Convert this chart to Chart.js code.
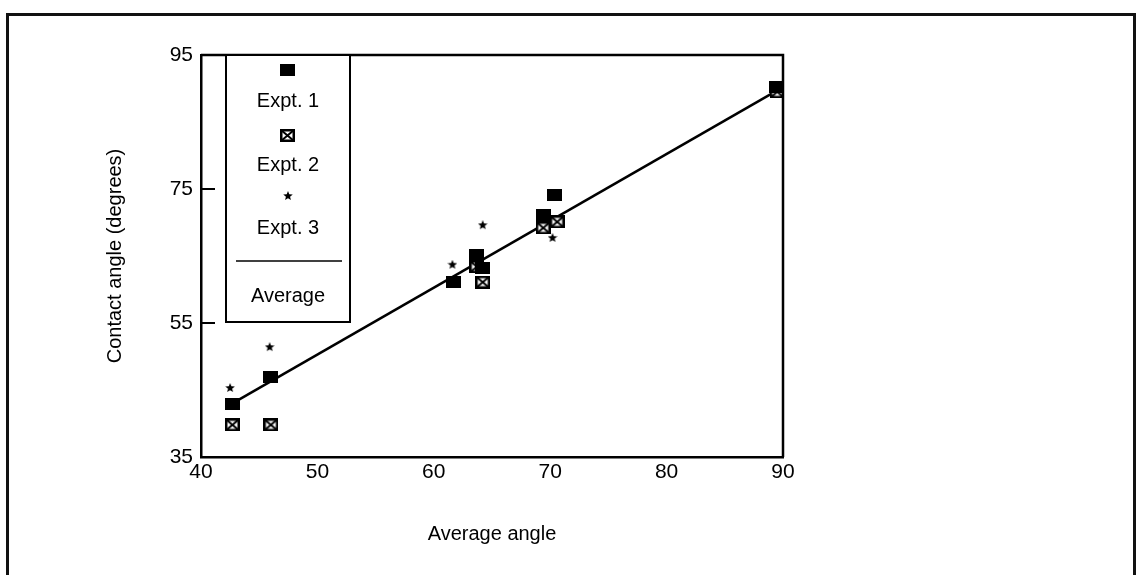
<!DOCTYPE html>
<html>
<head>
<meta charset="utf-8">
<script src="https://cdn.jsdelivr.net/npm/chart.js@4.4.0/dist/chart.umd.min.js"></script>
<style>
  html, body { margin: 0; padding: 0; background: #fff; }
  #wrap { position: relative; width: 1136px; height: 575px; overflow: hidden; }
  #frame { position: absolute; left: 6px; top: 13px; width: 1124px; height: 600px; border: 3px solid #111; }
  #c { position: absolute; left: 0; top: 0; }
</style>
</head>
<body>
<div id="wrap">
  <div id="frame"></div>
  <canvas id="c" width="1136" height="575"></canvas>
</div>
<script>
// --- datos ---
const expt1X = [42.7, 46.0, 61.7, 63.7, 64.2, 69.4, 70.4, 89.4];
const expt1Y = [42.9, 46.9, 61.1, 65.1, 63.2, 71.1, 74.1, 90.2];
const expt2X = [42.7, 46.0, 63.7, 64.2, 69.4, 70.6, 89.5];
const expt2Y = [39.8, 39.8, 63.4, 61.1, 69.2, 70.1, 89.5];
const expt3X = [42.5, 45.9, 61.6, 64.2, 70.2];
const expt3Y = [45.3, 51.4, 63.7, 69.6, 67.7];
const avgX = [42.7, 89.4];
const avgY = [43.0, 89.6];
const xTicks = [40, 50, 60, 70, 80, 90];
const yTicks = [35, 55, 75, 95];
const labels = ['Expt. 1', 'Expt. 2', 'Expt. 3', 'Average'];

const FONT = "'Liberation Sans', Arial, Helvetica, sans-serif";

// iconos de puntos
function makeCrossSquare(w, h) {
  const cv = document.createElement('canvas');
  cv.width = w; cv.height = h;
  const c = cv.getContext('2d');
  c.fillStyle = '#fff'; c.fillRect(0, 0, w, h);
  c.strokeStyle = '#000'; c.lineWidth = 2.5;
  c.strokeRect(1.25, 1.25, w - 2.5, h - 2.5);
  c.lineWidth = 2;
  c.beginPath();
  c.moveTo(1, 1); c.lineTo(w - 1, h - 1);
  c.moveTo(w - 1, 1); c.lineTo(1, h - 1);
  c.stroke();
  return cv;
}
function makeStar(s) {
  const cv = document.createElement('canvas');
  cv.width = s; cv.height = s;
  const c = cv.getContext('2d');
  c.fillStyle = '#000';
  c.beginPath();
  for (let i = 0; i < 10; i++) {
    const r = i % 2 === 0 ? s / 2 : s / 4.6;
    const a = -Math.PI / 2 + i * Math.PI / 5;
    c.lineTo(s / 2 + r * Math.cos(a), s / 2 + r * Math.sin(a));
  }
  c.closePath(); c.fill();
  return cv;
}
function makeRect(w, h) {
  const cv = document.createElement('canvas');
  cv.width = w; cv.height = h;
  const c = cv.getContext('2d');
  c.fillStyle = '#000'; c.fillRect(0, 0, w, h);
  return cv;
}
const rectIcon = makeRect(15, 12);
const crossIcon = makeCrossSquare(15, 13);
const starIcon = makeStar(10);

const toPts = (xs, ys) => xs.map((x, i) => ({ x: x, y: ys[i] }));

// marco del área, marcas hacia dentro en el eje Y y leyenda a medida
const extras = {
  id: 'extras',
  afterDraw(chart) {
    const ctx = chart.ctx;
    const ys = chart.scales.y, ca = chart.chartArea;
    ctx.save();
    ctx.strokeStyle = '#000'; ctx.lineWidth = 2.5;
    ctx.beginPath();
    ctx.moveTo(ca.left, ca.top); ctx.lineTo(ca.right, ca.top); ctx.lineTo(ca.right, ca.bottom);
    ctx.stroke();
    ctx.lineWidth = 2;
    yTicks.forEach(v => {
      const py = ys.getPixelForValue(v);
      ctx.beginPath(); ctx.moveTo(ca.left, py); ctx.lineTo(ca.left + 14, py); ctx.stroke();
    });
    // caja de leyenda
    const L = ca.left + 25, R = 350, T = ca.top, B = 322;
    ctx.fillStyle = '#fff'; ctx.fillRect(L, T, R - L, B - T);
    ctx.lineWidth = 2; ctx.strokeRect(L, T, R - L, B - T);
    const cx = (L + R) / 2;
    ctx.drawImage(rectIcon, cx - 8, 64);
    ctx.drawImage(crossIcon, cx - 8, 129);
    ctx.drawImage(starIcon, cx - 5, 191);
    ctx.fillStyle = '#000';
    ctx.font = '20px ' + FONT;
    ctx.textAlign = 'center'; ctx.textBaseline = 'middle';
    ctx.fillText(labels[0], cx, 101);
    ctx.fillText(labels[1], cx, 165);
    ctx.fillText(labels[2], cx, 228);
    ctx.beginPath(); ctx.moveTo(L + 10, 261); ctx.lineTo(R - 8, 261); ctx.lineWidth = 1.5; ctx.stroke();
    ctx.fillText(labels[3], cx, 296);
    ctx.restore();
  }
};

new Chart(document.getElementById('c'), {
  type: 'scatter',
  data: {
    datasets: [
      { label: labels[3], type: 'line', data: toPts(avgX, avgY), borderColor: '#000', borderWidth: 2.5, pointRadius: 0, showLine: true, order: 4 },
      { label: labels[1], data: toPts(expt2X, expt2Y), pointStyle: crossIcon, order: 3 },
      { label: labels[0], data: toPts(expt1X, expt1Y), pointStyle: rectIcon, order: 2 },
      { label: labels[2], data: toPts(expt3X, expt3Y), pointStyle: starIcon, order: 1 }
    ]
  },
  options: {
    responsive: false,
    animation: false,
    layout: { padding: { left: 0, top: 55, right: 353, bottom: 0 } },
    plugins: { legend: { display: false }, tooltip: { enabled: false } },
    scales: {
      x: {
        type: 'linear', min: 40, max: 90,
        afterBuildTicks: s => { s.ticks = xTicks.map(v => ({ value: v })); },
        afterFit: s => { s.height = 118; },
        grid: { display: false, drawTicks: false },
        border: { display: true, color: '#000', width: 2.5 },
        ticks: { color: '#000', font: { family: FONT, size: 21 }, padding: 3 },
        title: { display: true, text: 'Average angle', color: '#000', font: { family: FONT, size: 20 }, padding: { top: 0, bottom: 29 } }
      },
      y: {
        type: 'linear', min: 35, max: 95,
        afterBuildTicks: s => { s.ticks = yTicks.map(v => ({ value: v })); },
        afterFit: s => { s.width = 201; },
        grid: { display: false, drawTicks: false },
        border: { display: true, color: '#000', width: 2.5 },
        ticks: { color: '#000', font: { family: FONT, size: 21 }, padding: 8 },
        title: { display: true, text: 'Contact angle (degrees)', color: '#000', font: { family: FONT, size: 20 }, padding: { top: 103, bottom: 0 } }
      }
    }
  },
  plugins: [extras]
});
</script>
</body>
</html>
